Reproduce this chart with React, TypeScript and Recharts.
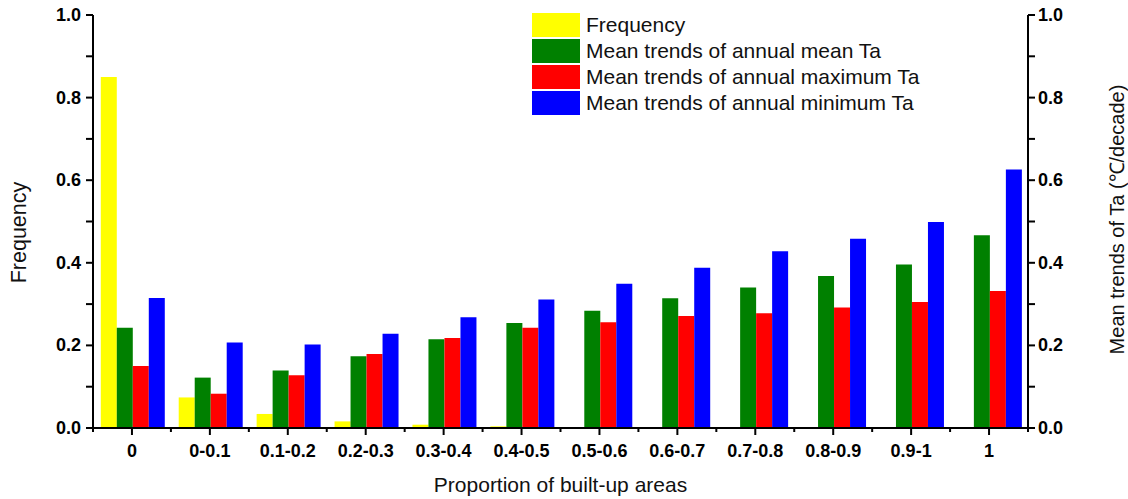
import React from 'react';
import { Bar, BarChart, XAxis, YAxis } from 'recharts';

const categories = ['0', '0-0.1', '0.1-0.2', '0.2-0.3', '0.3-0.4', '0.4-0.5', '0.5-0.6', '0.6-0.7', '0.7-0.8', '0.8-0.9', '0.9-1', '1'];
const frequency = [0.85, 0.074, 0.034, 0.016, 0.008, 0.004, 0.002, 0, 0, 0, 0, 0];
const meanTa = [0.243, 0.122, 0.139, 0.174, 0.215, 0.254, 0.284, 0.314, 0.34, 0.368, 0.396, 0.467];
const maxTa = [0.15, 0.083, 0.128, 0.179, 0.218, 0.243, 0.256, 0.271, 0.278, 0.292, 0.305, 0.332];
const minTa = [0.315, 0.207, 0.202, 0.228, 0.268, 0.311, 0.349, 0.388, 0.428, 0.458, 0.499, 0.626];
const yTicks = [0, 0.1, 0.2, 0.3, 0.4, 0.5, 0.6, 0.7, 0.8, 0.9, 1.0];

const series = [
	{ key: 'frequency', name: 'Frequency', color: '#FFFF00', axis: 'left' },
	{ key: 'meanTa', name: 'Mean trends of annual mean Ta', color: '#008000', axis: 'right' },
	{ key: 'maxTa', name: 'Mean trends of annual maximum Ta', color: '#FF0000', axis: 'right' },
	{ key: 'minTa', name: 'Mean trends of annual minimum Ta', color: '#0000FF', axis: 'right' },
];

const data = categories.map((name, i) => ({
	name,
	frequency: frequency[i],
	meanTa: meanTa[i],
	maxTa: maxTa[i],
	minTa: minTa[i],
}));

const FONT = "'Liberation Sans', Arial, sans-serif";
const W = 1128;
const H = 499;
const LEFT_W = 93;
const RIGHT_W = 100;
const TICK_FS = 18;

const isMajor = (v: number) => Math.round(v * 10) % 2 === 0;

const LeftTick = (props: any) => {
	const { x, y, payload } = props;
	const v = payload.value as number;
	return (
		<g>
			<line x1={x} x2={x - 7} y1={y} y2={y} stroke='#000' strokeWidth={2} />
			{isMajor(v) && (
				<text x={x - 12} y={y} dy={6} textAnchor='end' fontFamily={FONT} fontWeight='bold' fontSize={TICK_FS} fill='#000'>
					{v.toFixed(1)}
				</text>
			)}
		</g>
	);
};

const RightTick = (props: any) => {
	const { x, y, payload } = props;
	const v = payload.value as number;
	return (
		<g>
			<line x1={x} x2={x + 7} y1={y} y2={y} stroke='#000' strokeWidth={2} />
			{isMajor(v) && (
				<text x={x + 10} y={y} dy={6} textAnchor='start' fontFamily={FONT} fontWeight='bold' fontSize={TICK_FS} fill='#000'>
					{v.toFixed(1)}
				</text>
			)}
		</g>
	);
};

const XTick = (props: any) => {
	const { x, y, payload, index } = props;
	const half = payload.offset ?? (W - LEFT_W - RIGHT_W) / categories.length / 2;
	return (
		<g>
			<line x1={x} x2={x} y1={y} y2={y + 7} stroke='#000' strokeWidth={2} />
			<line x1={x + half} x2={x + half} y1={y} y2={y + 4} stroke='#000' strokeWidth={2} />
			{index === 0 && <line x1={x - half} x2={x - half} y1={y} y2={y + 4} stroke='#000' strokeWidth={2} />}
			<text x={x} y={y + 29} textAnchor='middle' fontFamily={FONT} fontWeight='bold' fontSize={TICK_FS} fill='#000'>
				{payload.value}
			</text>
		</g>
	);
};

const leftTitle = (p: any) => {
	const { x, y, height } = p.viewBox;
	const cx = x + 26;
	const cy = y + height / 2 + 11;
	return (
		<text transform={`translate(${cx},${cy}) rotate(-90)`} textAnchor='middle' fontFamily={FONT} fontSize={21.5} fill='#111'>
			Frequency
		</text>
	);
};

const rightTitle = (p: any) => {
	const { x, y, height } = p.viewBox;
	const cx = x + 96;
	const cy = y + height / 2 - 2;
	return (
		<text transform={`translate(${cx},${cy}) rotate(-90)`} textAnchor='middle' fontFamily={FONT} fontSize={20} fill='#111'>
			Mean trends of Ta (℃/decade)
		</text>
	);
};

const bottomTitle = (p: any) => {
	const { x, y, width } = p.viewBox;
	return (
		<text x={x + width / 2} y={y + 64} textAnchor='middle' fontFamily={FONT} fontSize={21} fill='#111'>
			Proportion of built-up areas
		</text>
	);
};

const LegendBox = () => (
	<div style={{ position: 'absolute', left: 532, top: 12, fontFamily: FONT, fontSize: 21, color: '#111' }}>
		{series.map((s) => (
			<div key={s.key} style={{ display: 'flex', alignItems: 'center', height: 26 }}>
				<div style={{ width: 48, height: 24, background: s.color, marginRight: 6 }} />
				<span style={{ whiteSpace: 'nowrap' }}>{s.name}</span>
			</div>
		))}
	</div>
);

const App = () => {
	return (
		<div style={{ position: 'absolute', left: 0, top: 0, width: W, height: H, background: '#fff' }}>
			<BarChart width={W} height={H} data={data} margin={{ top: 15, right: 0, bottom: 0, left: 0 }} barCategoryGap='10%' barGap={0}>
				<XAxis
					dataKey='name'
					height={71}
					interval={0}
					axisLine={{ stroke: '#000', strokeWidth: 2 }}
					tickLine={false}
					tickSize={0}
					tickMargin={0}
					tick={<XTick />}
					label={{ content: bottomTitle }}
				/>
				<YAxis
					yAxisId='left'
					width={LEFT_W}
					domain={[0, 1]}
					ticks={yTicks}
					axisLine={{ stroke: '#000', strokeWidth: 2 }}
					tickLine={false}
					tickSize={0}
					tickMargin={0}
					tick={<LeftTick />}
					label={{ content: leftTitle }}
				/>
				<YAxis
					yAxisId='right'
					orientation='right'
					width={RIGHT_W}
					domain={[0, 1]}
					ticks={yTicks}
					axisLine={{ stroke: '#000', strokeWidth: 2 }}
					tickLine={false}
					tickSize={0}
					tickMargin={0}
					tick={<RightTick />}
					label={{ content: rightTitle }}
				/>
				{series.map((s) => (
					<Bar key={s.key} dataKey={s.key} name={s.name} yAxisId={s.axis} fill={s.color} isAnimationActive={false} />
				))}
			</BarChart>
			<LegendBox />
		</div>
	);
};

export default App;
